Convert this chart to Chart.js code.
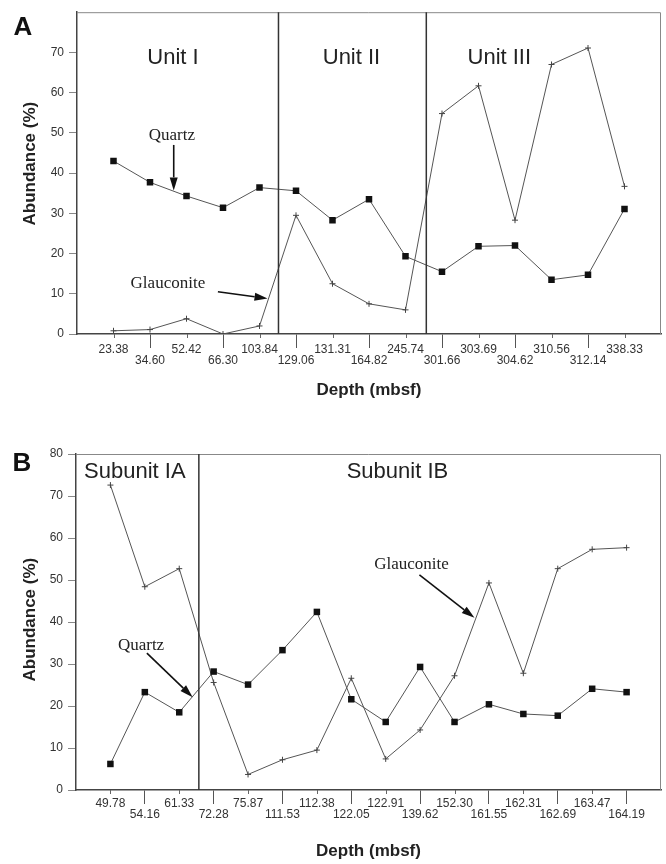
<!DOCTYPE html>
<html>
<head>
<meta charset="utf-8">
<title>Quartz and glauconite abundance</title>
<script src="https://cdn.jsdelivr.net/npm/chart.js@4.4.0/dist/chart.umd.min.js"></script>
<style>
    body { margin: 0; background: #fff; width: 666px; height: 864px; overflow: hidden; position: relative; }
    .panel { position: absolute; left: 0; width: 666px; }
</style>
</head>
<body>
<div class="panel" style="top:0;height:401px"><canvas id="chart-a"></canvas></div>
<div class="panel" style="top:430px;height:434px"><canvas id="chart-b"></canvas></div>
<script>
// panel A
var depthA = ['23.38', '34.60', '52.42', '66.30', '103.84', '129.06', '131.31', '164.82',
    '245.74', '301.66', '303.69', '304.62', '310.56', '312.14', '338.33'];
var quartzA = [43.0, 37.7, 34.3, 31.4, 36.4, 35.6, 28.3, 33.5, 19.3, 15.5, 21.8, 22.0, 13.5, 14.7, 31.1];
var glaucA = [0.8, 1.1, 3.8, 0.0, 2.0, 29.5, 12.5, 7.5, 6.0, 54.8, 61.7, 28.3, 67.0, 71.1, 36.7];
var unitEdgesA = [5.52, 9.57];

// panel B
var depthB = ['49.78', '54.16', '61.33', '72.28', '75.87', '111.53', '112.38', '122.05',
    '122.91', '139.62', '152.30', '161.55', '162.31', '162.69', '163.47', '164.19'];
var quartzB = [6.2, 23.3, 18.5, 28.2, 25.1, 33.3, 42.4, 21.6, 16.2, 29.3, 16.2, 20.4, 18.1, 17.7, 24.1, 23.3];
var glaucB = [72.6, 48.4, 52.7, 25.6, 3.7, 7.2, 9.5, 26.6, 7.4, 14.3, 27.2, 49.3, 27.8, 52.7, 57.3, 57.7];
var unitEdgesB = [3.57];

var yMax = 80;

Chart.defaults.font.family = "'Liberation Sans', Arial, sans-serif";
Chart.defaults.color = '#333';

function toPoints(arr) {
    return arr.map(function (v, i) { return { x: i + 1, y: v }; });
}

function drawArrow(ctx, x0, y0, x1, y1) {
    var ang = Math.atan2(y1 - y0, x1 - x0);
    var len = 13, half = 4;
    var bx = x1 - Math.cos(ang) * len, by = y1 - Math.sin(ang) * len;
    ctx.beginPath();
    ctx.moveTo(x0, y0);
    ctx.lineTo(bx, by);
    ctx.stroke();
    ctx.beginPath();
    ctx.moveTo(x1, y1);
    ctx.lineTo(bx + Math.sin(ang) * half, by - Math.cos(ang) * half);
    ctx.lineTo(bx - Math.sin(ang) * half, by + Math.cos(ang) * half);
    ctx.closePath();
    ctx.fill();
}

var figureExtras = {
    id: 'figureExtras',
    afterDatasetsDraw: function (chart, args, opts) {
        var ctx = chart.ctx, xs = chart.scales.x, ys = chart.scales.y, area = chart.chartArea;
        ctx.save();
        // top and right frame
        ctx.strokeStyle = '#888';
        ctx.lineWidth = 1;
        ctx.beginPath();
        ctx.moveTo(area.left, area.top + 0.5);
        ctx.lineTo(area.right - 0.5, area.top + 0.5);
        ctx.lineTo(area.right - 0.5, area.bottom);
        ctx.stroke();
        // unit boundaries
        ctx.strokeStyle = '#333';
        ctx.lineWidth = 1.5;
        opts.edges.forEach(function (v) {
            var px = xs.getPixelForValue(v);
            ctx.beginPath();
            ctx.moveTo(px, area.top);
            ctx.lineTo(px, area.bottom);
            ctx.stroke();
        });
        // short ticks at the upper-row labels
        ctx.strokeStyle = '#666';
        ctx.lineWidth = 1;
        for (var i = 1; i <= opts.count; i += 2) {
            var tx = Math.round(xs.getPixelForValue(i)) + 0.5;
            ctx.beginPath();
            ctx.moveTo(tx, area.bottom);
            ctx.lineTo(tx, area.bottom + 4);
            ctx.stroke();
        }
        // text labels
        ctx.fillStyle = '#222';
        ctx.textAlign = 'center';
        ctx.textBaseline = 'middle';
        opts.labels.forEach(function (l) {
            ctx.font = l.font;
            ctx.fillText(l.text, xs.getPixelForValue(l.x), ys.getPixelForValue(l.y));
        });
        // arrows
        ctx.strokeStyle = '#111';
        ctx.fillStyle = '#111';
        ctx.lineWidth = 1.6;
        opts.arrows.forEach(function (a) {
            drawArrow(ctx, xs.getPixelForValue(a[0]), ys.getPixelForValue(a[1]),
                xs.getPixelForValue(a[2]), ys.getPixelForValue(a[3]));
        });
        // panel letter
        ctx.fillStyle = '#111';
        ctx.font = "bold 26px 'Liberation Sans', Arial, sans-serif";
        ctx.fillText(opts.letter[0], opts.letter[1], opts.letter[2]);
        ctx.restore();
    }
};

var sansBig = "22px 'Liberation Sans', Arial, sans-serif";
var serifMid = "17px 'Liberation Serif', 'Times New Roman', serif";

function makeChart(id, cfg) {
    var n = cfg.depths.length;
    return new Chart(document.getElementById(id).getContext('2d'), {
        type: 'line',
        data: {
            datasets: [{
                label: 'Quartz',
                data: toPoints(cfg.quartz),
                borderColor: '#555',
                borderWidth: 1,
                pointStyle: 'rect',
                pointRadius: 4.6,
                pointBackgroundColor: '#111',
                pointBorderColor: '#111',
                pointBorderWidth: 0
            }, {
                label: 'Glauconite',
                data: toPoints(cfg.glauc),
                borderColor: '#555',
                borderWidth: 1,
                pointStyle: 'cross',
                pointRadius: 3,
                pointBorderColor: '#444',
                pointBorderWidth: 1
            }]
        },
        options: {
            responsive: true,
            maintainAspectRatio: false,
            animation: false,
            layout: { padding: { top: cfg.padTop, right: 4, left: 0, bottom: 0 } },
            plugins: {
                legend: { display: false },
                tooltip: { enabled: false },
                figureExtras: {
                    edges: cfg.edges,
                    count: n,
                    labels: cfg.labels,
                    arrows: cfg.arrows,
                    letter: cfg.letter
                }
            },
            scales: {
                x: {
                    type: 'linear',
                    min: 0,
                    max: n + 1,
                    afterFit: function (s) { s.height = cfg.xHeight; },
                    border: { display: true, color: '#444', width: 1.5 },
                    grid: {
                        drawOnChartArea: false,
                        drawTicks: true,
                        tickLength: 14,
                        tickWidth: 1,
                        tickColor: function (c) {
                            var v = c.tick ? c.tick.value : -1;
                            return (v > 0 && v <= n && v % 2 === 0) ? '#555' : 'rgba(0,0,0,0)';
                        }
                    },
                    ticks: {
                        stepSize: 1,
                        autoSkip: false,
                        maxRotation: 0,
                        padding: cfg.tickPad,
                        color: '#333',
                        font: { size: 12, lineHeight: 0.92 },
                        callback: function (v) {
                            if (v < 1 || v > n) return '';
                            var t = cfg.depths[v - 1];
                            return v % 2 === 0 ? ['', t] : t;
                        }
                    },
                    title: {
                        display: true,
                        text: 'Depth (mbsf)',
                        color: '#222',
                        font: { size: 17, weight: 'bold', lineHeight: 1.2 },
                        padding: { top: 0, bottom: cfg.xTitlePad }
                    }
                },
                y: {
                    min: 0,
                    max: yMax,
                    afterFit: function (s) { s.width = cfg.yWidth; },
                    border: { display: true, color: '#444', width: 1.5 },
                    grid: {
                        drawOnChartArea: false,
                        drawTicks: true,
                        tickLength: 8,
                        tickColor: function (c) {
                            var v = c.tick ? c.tick.value : -1;
                            return (v === yMax && !cfg.showTop) ? 'rgba(0,0,0,0)' : '#888';
                        }
                    },
                    ticks: {
                        stepSize: 10,
                        padding: 5,
                        color: '#333',
                        font: { size: 12 },
                        callback: function (v) { return (v === yMax && !cfg.showTop) ? '' : v; }
                    },
                    title: {
                        display: true,
                        text: cfg.yTitle,
                        color: '#222',
                        font: { size: 17, weight: 'bold', lineHeight: 1.2 },
                        padding: { top: 20, bottom: 0 }
                    }
                }
            }
        },
        plugins: [figureExtras]
    });
}

makeChart('chart-a', {
    depths: depthA, quartz: quartzA, glauc: glaucA, edges: unitEdgesA,
    padTop: 7, xHeight: 67, yWidth: 77, xTitlePad: 0, tickPad: -4, showTop: false,
    yTitle: '    Abundance (%)',
    letter: ['A', 23, 28],
    labels: [
        { text: 'Unit I', x: 2.63, y: 68.7, font: sansBig },
        { text: 'Unit II', x: 7.52, y: 68.7, font: sansBig },
        { text: 'Unit III', x: 11.57, y: 68.7, font: sansBig },
        { text: 'Quartz', x: 2.60, y: 49.4, font: serifMid },
        { text: 'Glauconite', x: 2.49, y: 12.5, font: serifMid }
    ],
    arrows: [[2.65, 47.0, 2.65, 35.7], [3.86, 10.5, 5.22, 8.8]]
});

makeChart('chart-b', {
    depths: depthB, quartz: quartzB, glauc: glaucB, edges: unitEdgesB,
    padTop: 24, xHeight: 74, yWidth: 76, xTitlePad: 2, tickPad: -5.5, showTop: true,
    yTitle: ' Abundance (%)',
    letter: ['B', 22, 34],
    labels: [
        { text: 'Subunit IA', x: 1.71, y: 75.7, font: sansBig },
        { text: 'Subunit IB', x: 9.34, y: 75.7, font: sansBig },
        { text: 'Quartz', x: 1.89, y: 34.3, font: serifMid },
        { text: 'Glauconite', x: 9.75, y: 53.6, font: serifMid }
    ],
    arrows: [[2.06, 32.6, 3.39, 22.1], [9.98, 51.2, 11.58, 41.0]]
});
</script>
</body>
</html>
